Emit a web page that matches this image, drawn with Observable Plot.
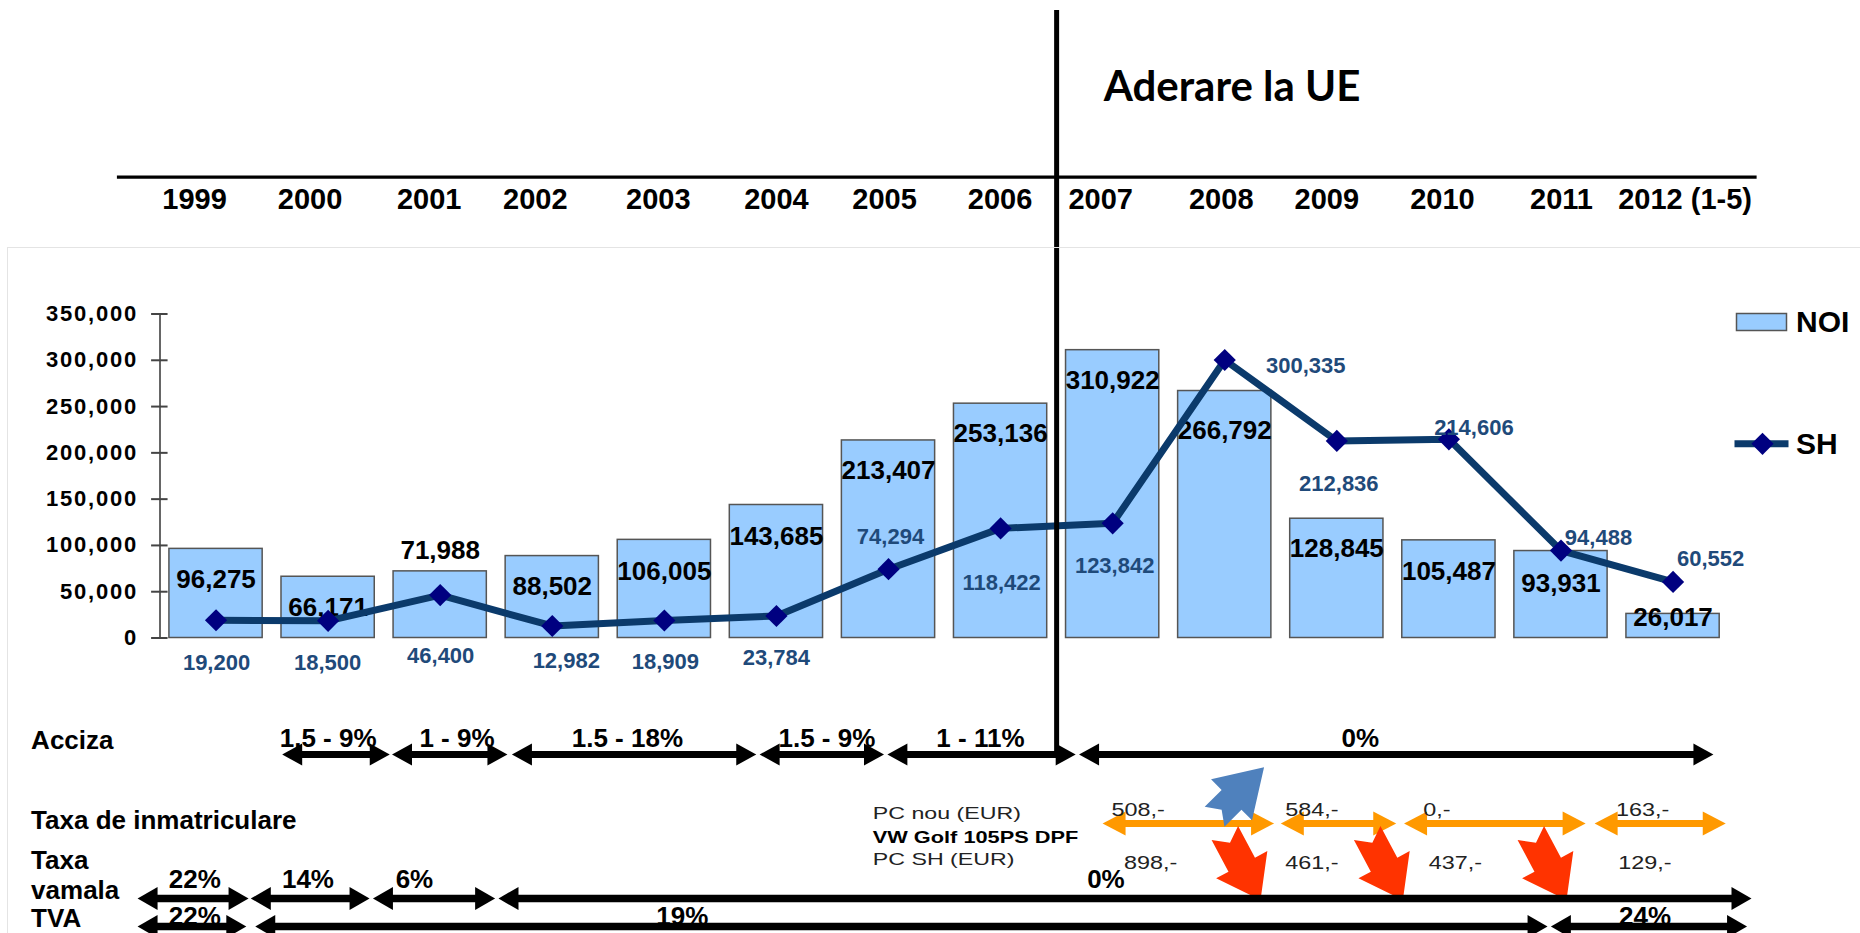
<!DOCTYPE html>
<html>
<head>
<meta charset="utf-8">
<script src="https://cdn.jsdelivr.net/npm/d3@7"></script>
<script src="https://cdn.jsdelivr.net/npm/@observablehq/plot@0.6"></script>
<style>
html, body { margin: 0; padding: 0; background: #fff; }
#wrap { position: relative; width: 1860px; height: 933px; overflow: hidden; }
#wrap svg { position: absolute; left: 0; top: 0; }
#box { position: absolute; left: 7px; top: 247px; width: 1900px; height: 800px;
       border-top: 1.5px solid #e4e4e4; border-left: 1.5px solid #e4e4e4; pointer-events: none; }
</style>
</head>
<body>
<div id="wrap"><div id="box"></div></div>
<script>
// ---------------- DATA ----------------
const years = [1999, 2000, 2001, 2002, 2003, 2004, 2005, 2006, 2007, 2008, 2009, 2010, 2011, 2012];
const yearLabels = ["1999", "2000", "2001", "2002", "2003", "2004", "2005", "2006", "2007", "2008", "2009", "2010", "2011", "2012 (1-5)"];
const noi = [96275, 66171, 71988, 88502, 106005, 143685, 213407, 253136, 310922, 266792, 128845, 105487, 93931, 26017];
const sh = [19200, 18500, 46400, 12982, 18909, 23784, 74294, 118422, 123842, 300335, 212836, 214606, 94488, 60552];
const yTicks = [0, 50000, 100000, 150000, 200000, 250000, 300000, 350000];
const seriesNames = ["NOI", "SH"];
const title = "Aderare la UE";
const euAccession = 2006.5;

// tax bands (spans in years)
const accizaLabels = ["1.5 - 9%", "1 - 9%", "1.5 - 18%", "1.5 - 9%", "1 - 11%", "0%"];
const accizaFrom = [1999.59, 2000.57, 2001.64, 2003.85, 2004.99, 2006.70];
const accizaTo = [2000.55, 2001.60, 2003.82, 2004.96, 2006.67, 2012.36];
const accizaLabelAt = [2000.0, 2001.15, 2002.67, 2004.45, 2005.82, 2009.21];

const inmatFrom = [2006.91, 2008.50, 2009.60, 2011.30];
const inmatTo = [2008.44, 2009.53, 2011.22, 2012.47];
const taxNew = ["508,-", "584,-", "0,-", "163,-"];
const taxNewAt = [2006.99, 2008.54, 2009.77, 2011.49];
const taxSH = ["898,-", "461,-", "437,-", "129,-"];
const taxSHAt = [2007.10, 2008.54, 2009.82, 2011.51];
const trendUp = [2008.13];
const trendDown = [2008.16, 2009.43, 2010.89];
const carLabels = ["PC nou (EUR)", "VW Golf 105PS DPF", "PC SH (EUR)"];
const carLabelAt = 2004.86;

const vamalaLabels = ["22%", "14%", "6%", "0%"];
const vamalaFrom = [1998.30, 1999.31, 2000.40, 2001.52];
const vamalaTo = [1999.29, 2000.37, 2001.49, 2012.70];
const vamalaLabelAt = [1998.81, 1999.82, 2000.77, 2006.94];

const tvaLabels = ["22%", "19%", "24%"];
const tvaFrom = [1998.30, 1999.35, 2010.91];
const tvaTo = [1999.27, 2010.88, 2012.66];
const tvaLabelAt = [1998.81, 2003.16, 2011.75];

const rowLabels = ["Acciza", "Taxa de inmatriculare", "Taxa", "vamala", "TVA"];
const rowLabelAt = 1997.35;

// ---------------- LAYOUT ----------------
const W = 1860, H = 933;
const Y0 = 637.5;                 // pixel of value 0
const off = p => p - Y0;          // pixel row -> offset from zero line
const FONT = "'Liberation Sans', Arial, sans-serif";
const BLUE_TXT = "#1F4A7A";
const LINE = "#0B3A6B";

const headerDx = [-21.5, -18, -11, -17, -6, 0, -4, -0.5, -12, -3.5, -10, -6.5, 0.5, 12];
const noiDy = [31, 31, -21, 30.5, 31.5, 31.5, 30, 30, 30.5, 39.5, 30, 31, 32.5, 3.5];
const shDx = [0.5, -0.5, 0.5, 14, 1, 0, 2, 1, 2, 81, 2, 25, 37.5, 37.5];
const shDy = [42.5, 42.5, 60.5, 34.5, 41, 41.5, -32.5, 55, 43, 5.5, 42.5, -11, -12.5, -22.5];
const rowLabelBase = [748, 828, 868, 898, 926];

const rows = years.map((year, i) => ({year, label: yearLabels[i], noi: noi[i], sh: sh[i]}));
const spans = (from, to) => from.map((d, i) => ({x1: d, x2: to[i]}));
const labelled = (labels, at) => labels.map((t, i) => ({t, x: at[i]}));

// custom symbols
const head = (dir, len, half) => ({draw(ctx) {
  ctx.moveTo(0, 0); ctx.lineTo(-dir * len, -half); ctx.lineTo(-dir * len, half); ctx.closePath();
}});
const rectSym = (w, h) => ({draw(ctx) { ctx.rect(-w / 2, -h / 2, w, h); }});
function blockArrow(deg, L, hl, Wd, w, n) {
  const a = deg * Math.PI / 180, c = Math.cos(a), s = Math.sin(a);
  const pts = [[L/2, 0], [L/2 - hl, Wd], [L/2 - hl, w], [-L/2, w], [-L/2 + n, 0], [-L/2, -w], [L/2 - hl, -w], [L/2 - hl, -Wd]];
  return {draw(ctx) {
    pts.forEach(([u, v], k) => { const x = u * c - v * s, y = u * s + v * c; k ? ctx.lineTo(x, y) : ctx.moveTo(x, y); });
    ctx.closePath();
  }};
}

function arrows(data, rowPx, color, thick, hl, hh) {
  const dy = off(rowPx);
  return [
    Plot.ruleY(data, {x1: "x1", x2: "x2", y: () => 0, dy, stroke: color, strokeWidth: thick, insetLeft: hl * 0.7, insetRight: hl * 0.7}),
    Plot.dot(data, {x: "x1", y: () => 0, dy, symbol: head(-1, hl, hh), fill: color, stroke: "none"}),
    Plot.dot(data, {x: "x2", y: () => 0, dy, symbol: head(1, hl, hh), fill: color, stroke: "none"})
  ];
}
function labels(data, basePx, opts = {}) {
  return Plot.text(data, {x: "x", y: () => 0, dy: off(basePx), text: "t", lineAnchor: "bottom",
    fontSize: 26, fontWeight: "bold", fill: "#000", ...opts});
}

const marks = [
  // header: year row, rule, title
  ...rows.map((r, i) => Plot.text([r], {x: "year", y: () => 0, dx: headerDx[i], dy: off(208), text: "label",
    lineAnchor: "bottom", fontSize: 29, fontWeight: "bold", fill: "#000"})),
  Plot.ruleY([0], {x1: 1998.12, x2: 2012.75, dy: off(176.7), stroke: "#000", strokeWidth: 3.3}),
  Plot.text([title], {x: () => 2006.92, y: () => 0, dy: off(100), text: d => d, textAnchor: "start",
    lineAnchor: "bottom", fontFamily: "Lato, 'Open Sans', sans-serif", fontSize: 42, fontWeight: "bold", fill: "#000"}),

  // bars
  Plot.rect(rows, {x1: d => d.year - 0.416, x2: d => d.year + 0.416, y1: () => 0, y2: "noi",
    fill: "#99CCFF", stroke: "#555", strokeWidth: 1.5}),

  // y axis
  Plot.axisY({ticks: yTicks, tickSize: 0, tickPadding: 22, tickFormat: d3.format(","),
    fontSize: 22, fontWeight: "bold", fill: "#000"}),
  Plot.ruleX([1998.5], {y1: 0, y2: 350000, stroke: "#333", strokeWidth: 1.5}),
  Plot.ruleY(yTicks, {x1: 1998.5 - 0.075, x2: 1998.5 + 0.072, stroke: "#444", strokeWidth: 2}),

  // NOI labels
  ...rows.map((r, i) => Plot.text([r], {x: "year", y: "noi", dy: noiDy[i], text: d => d3.format(",")(d.noi),
    fontSize: 26, fontWeight: "bold", fill: "#000"})),

  // SH line + markers
  Plot.line(rows, {x: "year", y: "sh", stroke: LINE, strokeWidth: 7}),
  Plot.dot(rows, {x: "year", y: "sh", symbol: "diamond2", r: 10, fill: "#000080", stroke: "none"}),
  ...rows.map((r, i) => Plot.text([r], {x: "year", y: "sh", dx: shDx[i], dy: shDy[i], text: d => d3.format(",")(d.sh),
    fontSize: 22, fontWeight: "bold", fill: BLUE_TXT})),

  // legend
  Plot.dot([seriesNames[0]], {frameAnchor: "top-right", dx: 32.4, dy: 7.9, symbol: rectSym(50, 17), fill: "#99CCFF", stroke: "#555", strokeWidth: 1.5}),
  Plot.text([seriesNames[0]], {frameAnchor: "top-right", dx: 67, dy: 18.2, text: d => d, textAnchor: "start", lineAnchor: "bottom", fontSize: 30, fontWeight: "bold", fill: "#000"}),
  Plot.dot([seriesNames[1]], {frameAnchor: "top-right", dx: 32.4, dy: 129.8, symbol: rectSym(54, 7), fill: LINE, stroke: "none"}),
  Plot.dot([seriesNames[1]], {frameAnchor: "top-right", dx: 33.4, dy: 129.8, symbol: "diamond2", r: 10, fill: "#000080", stroke: "none"}),
  Plot.text([seriesNames[1]], {frameAnchor: "top-right", dx: 67, dy: 139.5, text: d => d, textAnchor: "start", lineAnchor: "bottom", fontSize: 30, fontWeight: "bold", fill: "#000"}),

  // EU accession line
  Plot.ruleX([euAccession], {stroke: "#000", strokeWidth: 5, insetTop: -(313.5 - 10), insetBottom: -(757 - Y0)}),

  // Acciza
  labels(labelled(accizaLabels, accizaLabelAt), 746),
  ...arrows(spans(accizaFrom, accizaTo), 754, "#000", 7, 20, 11),

  // Taxa de inmatriculare
  ...arrows(spans(inmatFrom, inmatTo), 823, "#FF9900", 7, 23, 12),
  labels(labelled(taxNew, taxNewAt), 815, {textAnchor: "start", fontSize: 18, fontWeight: "normal", fill: "#222", ariaDescription: "stretch"}),
  labels(labelled(taxSH, taxSHAt), 868, {textAnchor: "start", fontSize: 18, fontWeight: "normal", fill: "#222", ariaDescription: "stretch"}),
  Plot.text([carLabels[0]], {x: () => carLabelAt, y: () => 0, dy: off(818), text: d => d, textAnchor: "start", lineAnchor: "bottom", fontSize: 16, fill: "#222", ariaDescription: "stretch2"}),
  Plot.text([carLabels[1]], {x: () => carLabelAt, y: () => 0, dy: off(842), text: d => d, textAnchor: "start", lineAnchor: "bottom", fontSize: 16, fontWeight: "bold", fill: "#000", ariaDescription: "stretch3"}),
  Plot.text([carLabels[2]], {x: () => carLabelAt, y: () => 0, dy: off(864), text: d => d, textAnchor: "start", lineAnchor: "bottom", fontSize: 16, fill: "#222", ariaDescription: "stretch2"}),
  Plot.dot(trendUp, {x: d => d, y: () => 0, dy: off(791.5), symbol: blockArrow(-45, 70, 46, 29, 14, 10), fill: "#4F81BD", stroke: "none"}),
  Plot.dot(trendDown, {x: d => d, y: () => 0, dy: off(866), symbol: blockArrow(62, 76, 40, 29, 15, 11), fill: "#FF3300", stroke: "none"}),

  // Taxa vamala
  labels(labelled(vamalaLabels, vamalaLabelAt), 887),
  ...arrows(spans(vamalaFrom, vamalaTo), 898, "#000", 7.5, 20, 11.5),

  // TVA
  labels(labelled(tvaLabels, tvaLabelAt), 924),
  ...arrows(spans(tvaFrom, tvaTo), 926, "#000", 7.5, 20, 11.5),

  // row labels
  ...rowLabels.map((t, i) => Plot.text([t], {x: () => rowLabelAt, y: () => 0, dy: off(rowLabelBase[i]), text: d => d,
    textAnchor: "start", lineAnchor: "bottom", fontSize: 26, fontWeight: "bold", fill: "#000"}))
];

const chart = Plot.plot({
  width: W, height: H,
  marginLeft: 159.5, marginRight: W - 1728.6, marginTop: 313.5, marginBottom: H - Y0,
  x: {type: "linear", domain: [1998.5, 2012.5], axis: null},
  y: {type: "linear", domain: [0, 350000], axis: null},
  style: {fontFamily: FONT, background: "transparent", overflow: "visible"},
  marks
});

// text styling tweaks (horizontally stretched fonts of the original slide)
function stretch(desc, sx) {
  chart.querySelectorAll(`g[aria-description="${desc}"] text`).forEach(t => {
    const tr = t.getAttribute("transform");
    if (tr) t.setAttribute("transform", tr + ` scale(${sx},1)`);
    else {
      const x = +t.getAttribute("x") || 0, y = +t.getAttribute("y") || 0;
      t.setAttribute("transform", `translate(${x},${y}) scale(${sx},1) translate(${-x},${-y})`);
    }
  });
}
stretch("stretch", 1.3);
stretch("stretch2", 1.45);
stretch("stretch3", 1.36);
chart.querySelectorAll('g[aria-label="y-axis tick label"] text').forEach(t => t.style.letterSpacing = "1.8px");

document.getElementById("wrap").insertBefore(chart, document.getElementById("box"));
</script>
</body>
</html>
